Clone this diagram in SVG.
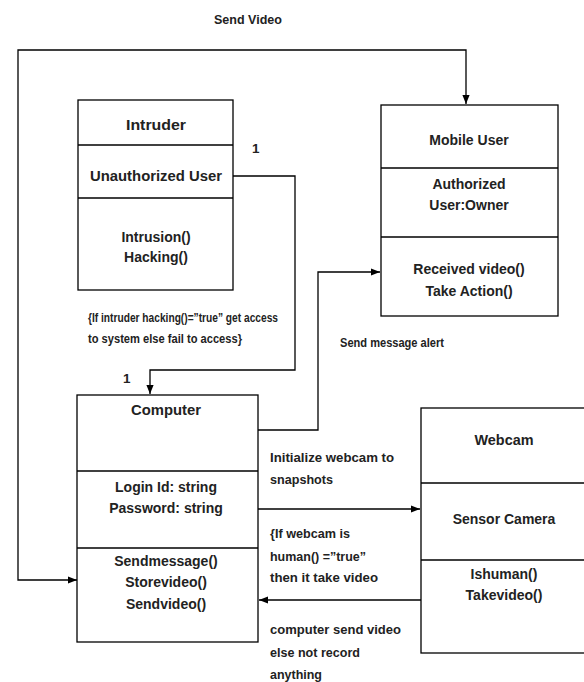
<svg xmlns="http://www.w3.org/2000/svg" width="584" height="682" viewBox="0 0 584 682">
<defs>
<style>
.box{fill:#fff;stroke:#000;stroke-width:1.3}
.ln{fill:none;stroke:#000;stroke-width:1.3}
text{font-family:"Liberation Sans",Arial,sans-serif;font-weight:bold;font-size:13.5px;fill:#222}
.c{text-anchor:middle;font-size:14px}
</style>
<marker id="ar" viewBox="0 0 10 10" refX="10" refY="5" markerWidth="7" markerHeight="7" orient="auto-start-reverse">
<path d="M0,1 L10,5 L0,9 z" fill="#000"/>
</marker>
</defs>
<rect width="584" height="682" fill="#fff"/>
<g id="connectors">
<path class="ln" d="M77,580 H18 V50 H466 V104" marker-start="url(#ar)" marker-end="url(#ar)"/>
<path class="ln" d="M233,176 H295 V370 H150 V394" marker-end="url(#ar)"/>
<path class="ln" d="M258,430 H318 V272 H380" marker-end="url(#ar)"/>
<path class="ln" d="M258,509 H420" marker-end="url(#ar)"/>
<path class="ln" d="M421,600 H259" marker-end="url(#ar)"/>
<text x="214" y="24" textLength="68" lengthAdjust="spacingAndGlyphs">Send Video</text>
<text x="252" y="153">1</text>
<text x="123" y="383">1</text>
<text x="88" y="322" textLength="190" lengthAdjust="spacingAndGlyphs">{If intruder hacking()=”true” get access</text>
<text x="88" y="343" textLength="154" lengthAdjust="spacingAndGlyphs">to system else fail to access}</text>
<text x="340" y="347" textLength="104" lengthAdjust="spacingAndGlyphs">Send message alert</text>
<text x="270" y="462" textLength="124" lengthAdjust="spacingAndGlyphs">Initialize webcam to</text>
<text x="270" y="484" textLength="63" lengthAdjust="spacingAndGlyphs">snapshots</text>
<text x="270" y="538" textLength="80" lengthAdjust="spacingAndGlyphs">{If webcam is</text>
<text x="270" y="561" textLength="96" lengthAdjust="spacingAndGlyphs">human() =”true”</text>
<text x="270" y="582" textLength="108" lengthAdjust="spacingAndGlyphs">then it take video</text>
<text x="270" y="634" textLength="131" lengthAdjust="spacingAndGlyphs">computer send video</text>
<text x="270" y="657" textLength="90" lengthAdjust="spacingAndGlyphs">else not record</text>
<text x="270" y="679" textLength="52" lengthAdjust="spacingAndGlyphs">anything</text>
</g>
<g id="intruder">
<rect class="box" x="78" y="100" width="155" height="190"/>
<line class="ln" x1="78" y1="145" x2="233" y2="145"/>
<line class="ln" x1="78" y1="198" x2="233" y2="198"/>
<text x="156" y="130" class="c" textLength="60" lengthAdjust="spacingAndGlyphs">Intruder</text>
<text x="156" y="181" class="c" textLength="132" lengthAdjust="spacingAndGlyphs">Unauthorized User</text>
<text x="156" y="242" class="c">Intrusion()</text>
<text x="156" y="262" class="c">Hacking()</text>
</g>
<g id="mobile-user">
<rect class="box" x="381" y="105" width="177" height="211"/>
<line class="ln" x1="381" y1="168" x2="558" y2="168"/>
<line class="ln" x1="381" y1="237" x2="558" y2="237"/>
<text x="469" y="145" class="c">Mobile User</text>
<text x="469" y="189" class="c">Authorized</text>
<text x="469" y="210" class="c">User:Owner</text>
<text x="469" y="274" class="c">Received video()</text>
<text x="469" y="296" class="c">Take Action()</text>
</g>
<g id="computer">
<rect class="box" x="77" y="395" width="181" height="247"/>
<line class="ln" x1="77" y1="471" x2="258" y2="471"/>
<line class="ln" x1="77" y1="548" x2="258" y2="548"/>
<text x="166" y="415" class="c" textLength="70" lengthAdjust="spacingAndGlyphs">Computer</text>
<text x="166" y="492" class="c">Login Id: string</text>
<text x="166" y="513" class="c">Password: string</text>
<text x="166" y="566" class="c">Sendmessage()</text>
<text x="166" y="587" class="c">Storevideo()</text>
<text x="166" y="609" class="c">Sendvideo()</text>
</g>
<g id="webcam">
<rect class="box" x="421" y="408" width="170" height="245"/>
<line class="ln" x1="421" y1="483" x2="591" y2="483"/>
<line class="ln" x1="421" y1="560" x2="591" y2="560"/>
<text x="504" y="445" class="c" textLength="59" lengthAdjust="spacingAndGlyphs">Webcam</text>
<text x="504" y="524" class="c">Sensor Camera</text>
<text x="504" y="579" class="c">Ishuman()</text>
<text x="504" y="600" class="c">Takevideo()</text>
</g>
</svg>
